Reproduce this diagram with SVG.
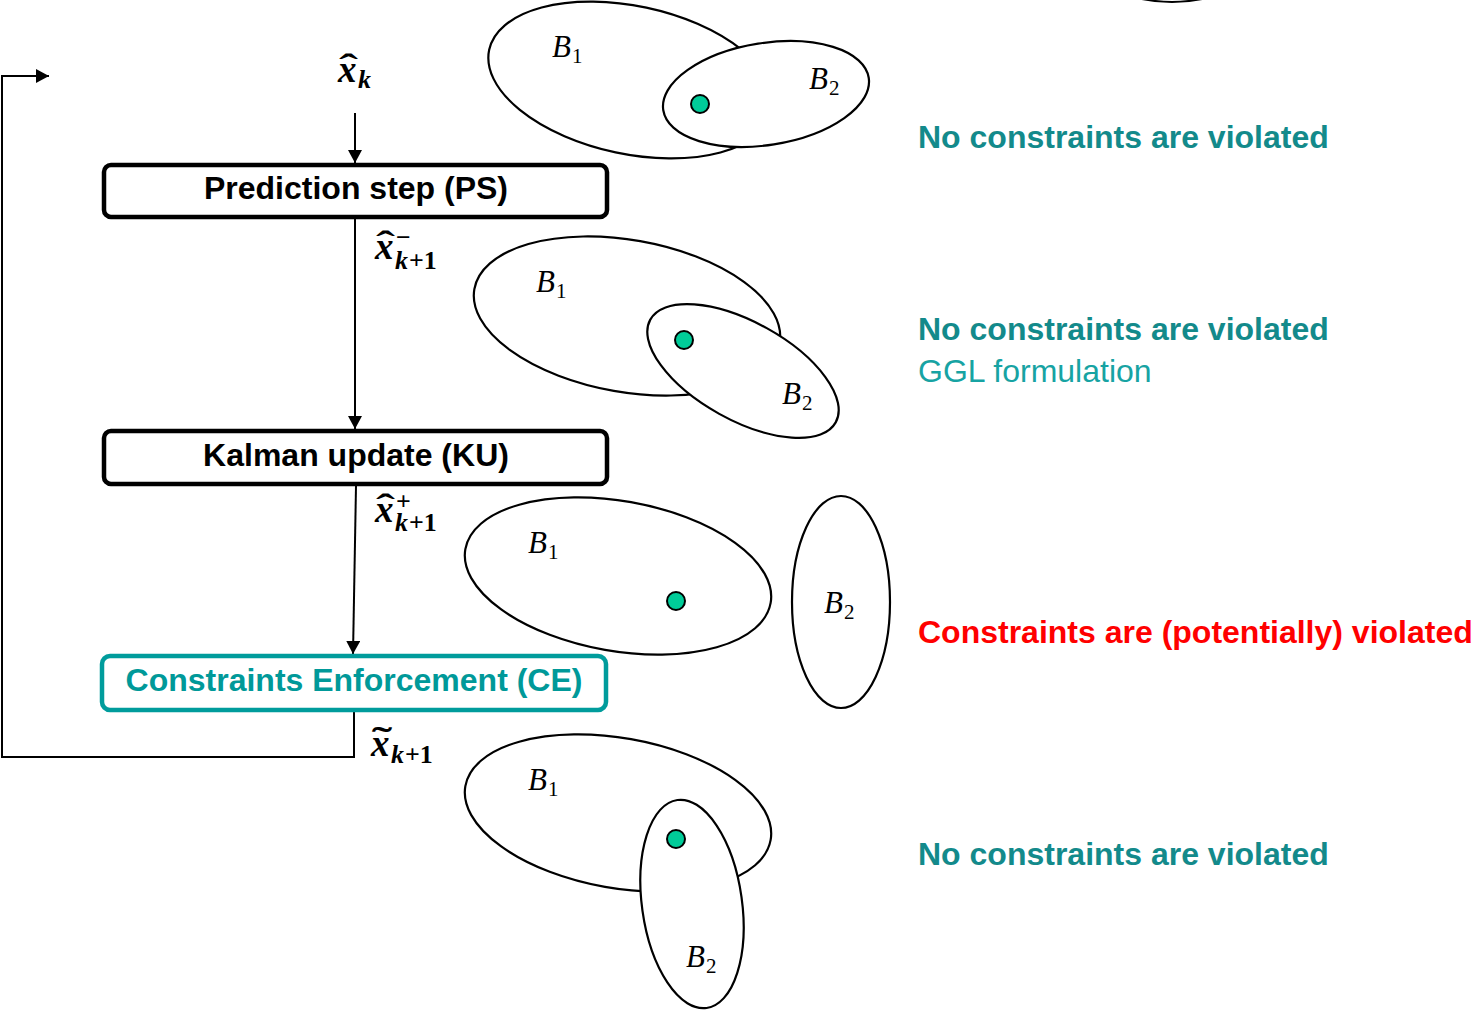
<svg xmlns="http://www.w3.org/2000/svg" width="1476" height="1012" viewBox="0 0 1476 1012">
<style>
.box{fill:#fff;stroke:#000;stroke-width:4.5}
.boxce{fill:#fff;stroke:#009C9C;stroke-width:4.5}
.bt{font-family:"Liberation Sans",Arial,sans-serif;font-weight:bold;font-size:32px;text-anchor:middle}
.ell{fill:#fff;stroke:#000;stroke-width:2.2}
.dot{fill:#00CC99;stroke:#000;stroke-width:2}
.bl{font-family:"Liberation Serif","DejaVu Serif",serif;font-style:italic;font-size:31px}
.sub{font-style:normal;font-size:21px}
.m{font-family:"Liberation Serif","DejaVu Serif",serif;font-style:italic;font-weight:bold;font-size:37px}
.ms{font-family:"Liberation Serif","DejaVu Serif",serif;font-style:italic;font-weight:bold;font-size:26px}
.mn{font-family:"Liberation Serif","DejaVu Serif",serif;font-weight:bold;font-size:26px}
.acc{font-family:"Liberation Serif","DejaVu Serif",serif;font-weight:bold;font-size:34px}
.rt{font-family:"Liberation Sans",Arial,sans-serif;font-weight:bold;font-size:32px;fill:#138A8B}
.rg{font-family:"Liberation Sans",Arial,sans-serif;font-size:32px;fill:#17A3A3}
.conn{fill:none;stroke:#000;stroke-width:2}
</style>
<defs>
<marker id="ah" viewBox="0 0 13 14" refX="13" refY="7" markerWidth="13" markerHeight="14" markerUnits="userSpaceOnUse" orient="auto">
<path d="M0,0 L13,7 L0,14 Z" fill="#000"/>
</marker>
</defs>

<g id="connectors">
<line class="conn" x1="355" y1="113" x2="355" y2="163" marker-end="url(#ah)"/>
<line class="conn" x1="355" y1="219" x2="355" y2="429" marker-end="url(#ah)"/>
<line class="conn" x1="356" y1="486" x2="353" y2="654" marker-end="url(#ah)"/>
<polyline class="conn" points="354,712 354,757 2,757 2,76 49,76" marker-end="url(#ah)"/>
</g>

<g id="ps">
<rect class="box" x="104" y="165" width="503" height="52" rx="7"/>
<text class="bt" x="356" y="199">Prediction step (PS)</text>
</g>
<g id="ku">
<rect class="box" x="104" y="431" width="503" height="53" rx="7"/>
<text class="bt" x="356" y="466">Kalman update (KU)</text>
</g>
<g id="ce">
<rect class="boxce" x="102" y="656" width="504" height="54" rx="8"/>
<text class="bt" x="354" y="691" fill="#009999">Constraints Enforcement (CE)</text>
</g>

<g id="label-xk">
<text class="m" x="338" y="82">x</text>
<text class="acc" x="339" y="78" textLength="19" lengthAdjust="spacingAndGlyphs">ˆ</text>
<text class="ms" x="358" y="88">k</text>
</g>
<g id="label-xminus">
<text class="m" x="375" y="259">x</text>
<text class="acc" x="376" y="255" textLength="19" lengthAdjust="spacingAndGlyphs">ˆ</text>
<text class="mn" x="396" y="246">−</text>
<text class="ms" x="395" y="269">k</text><text class="mn" x="409" y="269">+1</text>
</g>
<g id="label-xplus">
<text class="m" x="375" y="522">x</text>
<text class="acc" x="376" y="518" textLength="19" lengthAdjust="spacingAndGlyphs">ˆ</text>
<text class="mn" x="396" y="510">+</text>
<text class="ms" x="395" y="531">k</text><text class="mn" x="409" y="531">+1</text>
</g>
<g id="label-xtilde">
<text class="m" x="371" y="756">x</text>
<text class="acc" x="372" y="751" textLength="20" lengthAdjust="spacingAndGlyphs">˜</text>
<text class="ms" x="391" y="763">k</text><text class="mn" x="405" y="763">+1</text>
</g>

<g id="set1">
<ellipse class="ell" cx="631" cy="80" rx="145" ry="74" transform="rotate(12 631 80)"/>
<ellipse class="ell" cx="766" cy="94" rx="104" ry="51" transform="rotate(-9 766 94)"/>
<circle class="dot" cx="700" cy="104" r="9"/>
<text class="bl" x="552" y="57">B<tspan class="sub" dx="1" dy="6">1</tspan></text>
<text class="bl" x="809" y="89">B<tspan class="sub" dx="1" dy="6">2</tspan></text>
</g>
<g id="set2">
<ellipse class="ell" cx="627" cy="316" rx="155" ry="76" transform="rotate(10 627 316)"/>
<ellipse class="ell" cx="743" cy="371" rx="106" ry="49" transform="rotate(29 743 371)"/>
<circle class="dot" cx="684" cy="340" r="9"/>
<text class="bl" x="536" y="292">B<tspan class="sub" dx="1" dy="6">1</tspan></text>
<text class="bl" x="782" y="404">B<tspan class="sub" dx="1" dy="6">2</tspan></text>
</g>
<g id="set3">
<ellipse class="ell" cx="618" cy="576" rx="155" ry="75" transform="rotate(10 618 576)"/>
<ellipse class="ell" cx="841" cy="602" rx="49" ry="106"/>
<circle class="dot" cx="676" cy="601" r="9"/>
<text class="bl" x="528" y="553">B<tspan class="sub" dx="1" dy="6">1</tspan></text>
<text class="bl" x="824" y="613">B<tspan class="sub" dx="1" dy="6">2</tspan></text>
</g>
<g id="set4">
<ellipse class="ell" cx="618" cy="813" rx="155" ry="75" transform="rotate(10 618 813)"/>
<ellipse class="ell" cx="692" cy="904" rx="50" ry="105" transform="rotate(-8 692 904)"/>
<circle class="dot" cx="676" cy="839" r="9"/>
<text class="bl" x="528" y="790">B<tspan class="sub" dx="1" dy="6">1</tspan></text>
<text class="bl" x="686" y="967">B<tspan class="sub" dx="1" dy="6">2</tspan></text>
</g>
<ellipse class="ell" cx="1172" cy="-150" rx="150" ry="152"/>

<g id="status">
<text class="rt" x="918" y="148">No constraints are violated</text>
<text class="rt" x="918" y="340">No constraints are violated</text>
<text class="rg" x="918" y="382">GGL formulation</text>
<text class="rt" x="918" y="643" style="fill:#FF0000">Constraints are (potentially) violated</text>
<text class="rt" x="918" y="865">No constraints are violated</text>
</g>
</svg>
